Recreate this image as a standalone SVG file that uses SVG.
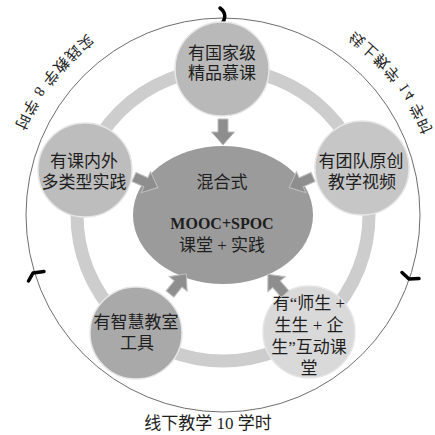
<svg xmlns="http://www.w3.org/2000/svg" width="435" height="435" viewBox="0 0 435 435">
<style>
  .t { font-family: "Liberation Serif", "Noto Sans CJK SC", serif; font-size: 17px; fill: #1e1e1e; text-anchor: middle; }
  .arc { font-family: "Liberation Serif", "Noto Sans CJK SC", serif; font-size: 15px; fill: #1e1e1e; letter-spacing: 1.5px; }
  .node { stroke: #e6e6e6; stroke-width: 1.5; }
  .arrow { fill: #8e8e8e; stroke: #bdbdbd; stroke-width: 1; }
  .tick { fill: none; stroke: #000; stroke-width: 3.5; stroke-linecap: round; stroke-linejoin: round; }
</style>
<defs>
  <polygon id="blk" points="0,-5 13,-5 13,-11.5 26,0 13,11.5 13,5 0,5"/>
  <path id="arcL" d="M147.4,7.3 A221,221 0 0 0 3.2,191.9"/>
</defs>
<rect width="435" height="435" fill="#fff"/>

<g id="outer">
  <circle cx="223" cy="215" r="197" fill="none" stroke="#6e6e6e" stroke-width="1"/>
  <path class="tick" d="M220,8 Q229,15 221,25"/>
  <path class="tick" d="M28.5,281 L33,273 L44,271.5"/>
  <path class="tick" d="M402,272.5 L409,279 L419,278.5"/>
  <text class="arc" dominant-baseline="central"><textPath href="#arcL" startOffset="50%" text-anchor="middle">实践教学 8 学时</textPath></text>
  <g transform="matrix(-1 0 0 1 446 0)">
    <text class="arc" dominant-baseline="central"><textPath href="#arcL" startOffset="50%" text-anchor="middle">线上教学 14 学时</textPath></text>
  </g>
  <text class="t" x="208" y="429">线下教学 10 学时</text>
</g>

<g id="ring">
  <circle cx="223" cy="215" r="146" fill="none" stroke="#cdcdcd" stroke-width="13"/>
</g>

<g id="center">
  <ellipse cx="223" cy="215" rx="90" ry="69" fill="#9b9b9b"/>
  <text class="t" x="222" y="188">混合式</text>
  <text class="t" x="222" y="229" style="font-size:16px;font-weight:bold">MOOC+SPOC</text>
  <text class="t" x="222" y="251">课堂 + 实践</text>
</g>

<g id="node-top">
  <circle class="node" cx="222" cy="69" r="47" fill="#b9b9b9"/>
  <text class="t" x="222" y="59">有国家级</text>
  <text class="t" x="222" y="79">精品慕课</text>
</g>

<g id="node-left">
  <circle class="node" cx="85" cy="170" r="47" fill="#bdbdbd"/>
  <text class="t" x="84" y="167">有课内外</text>
  <text class="t" x="84" y="188">多类型实践</text>
</g>

<g id="node-right">
  <circle class="node" cx="362" cy="168" r="47" fill="#c6c6c6"/>
  <text class="t" x="361" y="167">有团队原创</text>
  <text class="t" x="362" y="188">教学视频</text>
</g>

<g id="node-bottom-left">
  <circle class="node" cx="136" cy="333" r="46" fill="#a9a9a9"/>
  <text class="t" x="136" y="328">有智慧教室</text>
  <text class="t" x="137" y="349">工具</text>
</g>

<g id="node-bottom-right">
  <circle class="node" cx="309" cy="332" r="46" fill="#d9d9d9"/>
  <text class="t" x="309" y="309">有“师生 +</text>
  <text class="t" x="309" y="331">生生 + 企</text>
  <text class="t" x="309" y="353">生”互动课</text>
  <text class="t" x="309" y="374">堂</text>
</g>

<g id="connectors">
  <use href="#blk" class="arrow" transform="translate(223,119) rotate(90)"/>
  <use href="#blk" class="arrow" transform="translate(134,177) rotate(24)"/>
  <use href="#blk" class="arrow" transform="translate(313,177) rotate(156)"/>
  <use href="#blk" class="arrow" transform="translate(170,294) rotate(-51)"/>
  <use href="#blk" class="arrow" transform="translate(285,294) rotate(-131)"/>
</g>
</svg>
